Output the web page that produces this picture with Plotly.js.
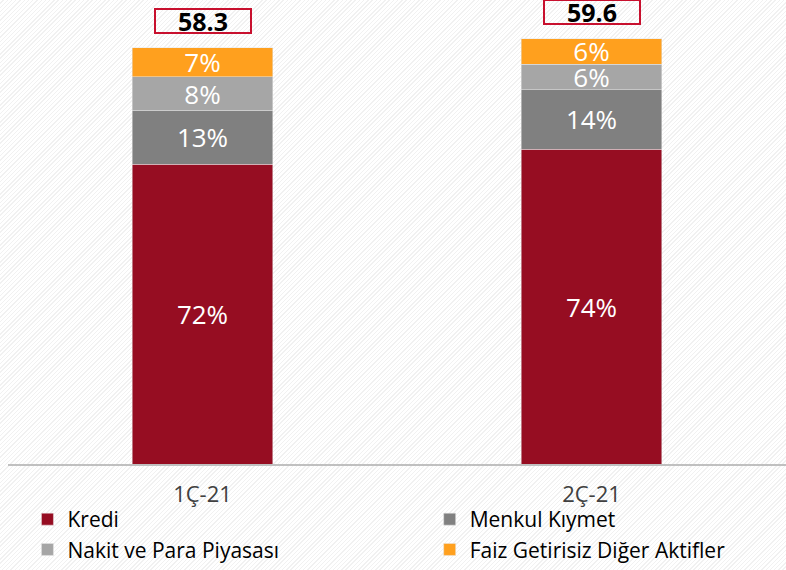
<!DOCTYPE html>
<html>
<head>
<meta charset="utf-8">
<script src="https://cdn.plot.ly/plotly-3.0.1.min.js"></script>
<style>
  html, body { margin: 0; padding: 0; }
  body {
    width: 786px; height: 570px;
    background: repeating-linear-gradient(135deg, #ffffff 0px, #ffffff 2px, #f1f1f1 2px, #f1f1f1 3px);
  }
</style>
</head>
<body>
<div id="chart" style="width:786px;height:570px;"></div>
<script>
// quarters and total interest-earning assets (bn)
let quarters = ["1Ç-21", "2Ç-21"];
let totals = [58.3, 59.6];

// share of each asset group, %
let kredi = [72, 74];
let menkul = [13, 14];
let nakit = [8, 6];
let faiz = [7, 6];

let names = ["Kredi", "Menkul Kıymet", "Nakit ve Para Piyasası", "Faiz Getirisiz Diğer Aktifler"];
let colors = ["#960d22", "#808080", "#a6a6a6", "#ffa01e"];
let shares = [kredi, menkul, nakit, faiz];
// left legend column: Kredi, Nakit; right column: Menkul, Faiz
let legendOf = ["legend", "legend2", "legend", "legend2"];

let data = shares.map(function (s, i) {
    return {
        type: "bar",
        name: names[i],
        legend: legendOf[i],
        x: quarters,
        y: s.map(function (p, j) { return totals[j] * p / 100; }),
        text: s.map(function (p) { return p + "%"; }),
        textposition: "inside",
        insidetextanchor: "middle",
        textangle: 0,
        textfont: { color: "#ffffff", size: 26, family: "Open Sans" },
        marker: { color: colors[i], line: { color: "#e6e6e6", width: 0.5 } },
        width: 0.36,
        hoverinfo: "none"
    };
});

// total boxes above each bar
let annotations = quarters.map(function (q, j) {
    return {
        x: q,
        y: totals[j],
        yanchor: "bottom",
        yshift: 14,
        text: "<b>" + totals[j] + "</b>",
        showarrow: false,
        font: { size: 25, color: "#000000", family: "Open Sans" },
        bordercolor: "#c8102e",
        borderwidth: 2,
        borderpad: 0,
        width: 94,
        height: 22
    };
});

let legendStyle = function (x) {
    return {
        orientation: "v",
        traceorder: "normal",
        x: x,
        y: -0.076,
        xanchor: "left",
        yanchor: "top",
        tracegroupgap: 0,
        font: { size: 21, color: "#000000", family: "Open Sans" },
        bgcolor: "rgba(0,0,0,0)"
    };
};

let layout = {
    width: 786,
    height: 570,
    barmode: "stack",
    paper_bgcolor: "rgba(0,0,0,0)",
    plot_bgcolor: "rgba(0,0,0,0)",
    margin: { l: 8, r: 0, t: 0, b: 104 },
    uniformtext: { mode: "show", minsize: 25 },
    xaxis: {
        range: [-0.5, 1.5],
        showgrid: false,
        zeroline: false,
        showline: true,
        linecolor: "#c0c0c0",
        linewidth: 2,
        ticks: "",
        ticklabelstandoff: 10,
        tickfont: { size: 22, color: "#404040", family: "Open Sans" }
    },
    yaxis: {
        range: [0, 65],
        showgrid: false,
        zeroline: false,
        showticklabels: false,
        fixedrange: true
    },
    legend: legendStyle(0.025),
    legend2: legendStyle(0.542),
    annotations: annotations,
    showlegend: true
};

Plotly.newPlot("chart", data, layout, { displayModeBar: false, staticPlot: true });
</script>
</body>
</html>
